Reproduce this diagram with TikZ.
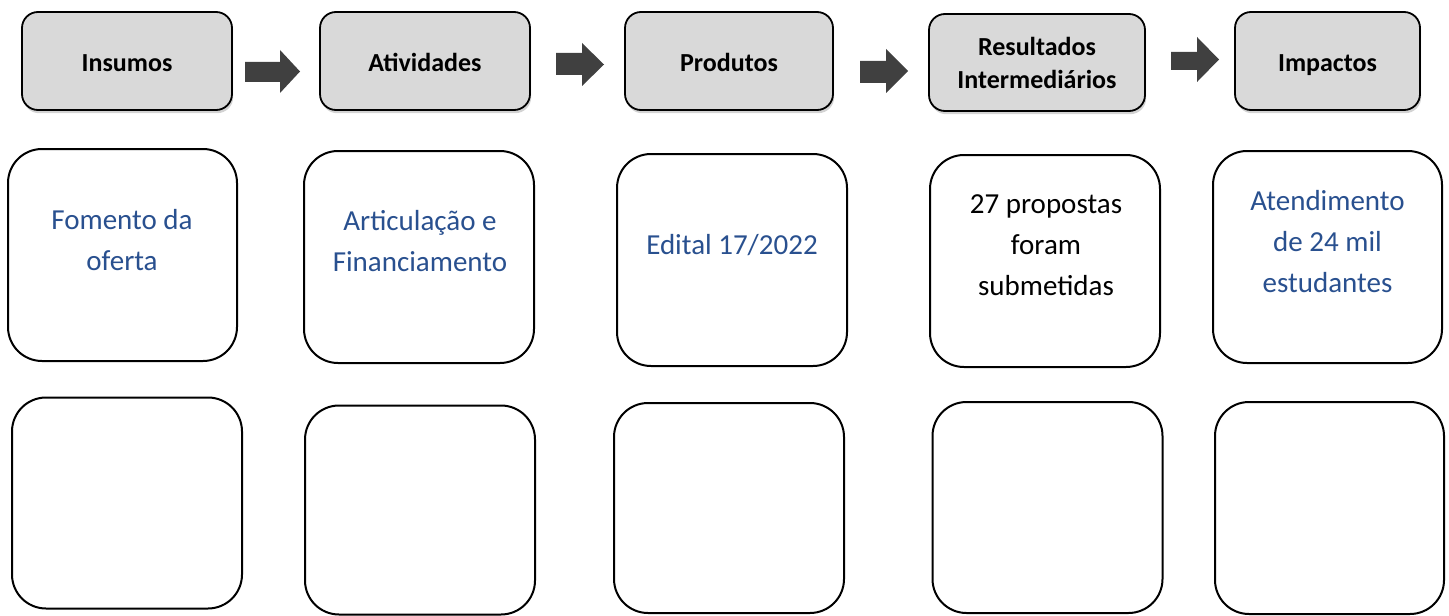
\documentclass[tikz,border=0pt]{standalone}
\usepackage{fontspec}
\setmainfont{Carlito}
\usetikzlibrary{shadows}
\definecolor{hdrfill}{HTML}{D9D9D9}
\definecolor{txtblue}{HTML}{29508F}
\definecolor{arrowgray}{HTML}{404040}
\tikzset{
  hdr/.style={draw=black, line width=0.9pt, fill=hdrfill, rounded corners=8pt,
    minimum height=49pt, inner sep=0pt, align=center,
    font=\bfseries\fontsize{13}{16.5}\selectfont,
    drop shadow={opacity=0.35, shadow xshift=0.6pt, shadow yshift=-1.6pt}},
  hdrone/.style={hdr, text height=11pt, text depth=0pt},
  cell/.style={draw=black, line width=1pt, fill=white, rounded corners=17pt,
    inner sep=0pt},
  txt/.style={anchor=north, inner sep=0pt, align=center,
    font=\fontsize{14.5}{20.5}\selectfont},
  bluetxt/.style={txt, text=txtblue},
  blockarrow/.style={fill=arrowgray}
}
\begin{document}
\begin{tikzpicture}[x=0.5pt, y=-0.5pt]
\useasboundingbox (0,0) rectangle (1449,615);

% header boxes
\node[hdrone, minimum width=105pt] (h1) at (127,61) {Insumos};
\node[hdrone, minimum width=105pt] (h2) at (425,61) {Atividades};
\node[hdrone, minimum width=104pt] (h3) at (729,61) {Produtos};
\node[hdr, minimum width=108pt, minimum height=48.5pt] (h4) at (1037,62.5) {Resultados\\Intermediários};
\node[hdrone, minimum width=92.5pt] (h5) at (1327.5,61) {Impactos};

% block arrows between headers
\fill[blockarrow] (245,62) -- (280,62) -- (280,50) -- (300,71.5) -- (280,93) -- (280,82) -- (245,82) -- cycle;
\fill[blockarrow] (556,53) -- (582,53) -- (582,43) -- (604,64.5) -- (582,86) -- (582,75) -- (556,75) -- cycle;
\fill[blockarrow] (860,61) -- (886,61) -- (886,49) -- (908,71) -- (886,93) -- (886,83) -- (860,83) -- cycle;
\fill[blockarrow] (1171,52) -- (1197,52) -- (1197,37) -- (1219,59.5) -- (1197,82) -- (1197,70) -- (1171,70) -- cycle;

% second row
\node[cell, minimum width=114.5pt, minimum height=106pt] (b1) at (122.5,255) {};
\node[cell, minimum width=115pt, minimum height=106pt] (b2) at (419,257) {};
\node[cell, minimum width=115pt, minimum height=106pt] (b3) at (732,260) {};
\node[cell, minimum width=115pt, minimum height=106pt] (b4) at (1045,261) {};
\node[cell, minimum width=114.5pt, minimum height=106pt] (b5) at (1327.5,257) {};

\node[bluetxt] (t1) at (122,200.5) {\strut Fomento da\\oferta};
\node[bluetxt] (t2) at (420,201.5) {\strut Articulação e\\Financiamento};
\node[bluetxt] (t3) at (732,225.5) {\strut Edital 17/2022};
\node[txt] (t4) at (1046,184.5) {\strut 27 propostas\\foram\\submetidas};
\node[bluetxt] (t5) at (1327.5,181.5) {\strut Atendimento\\de 24 mil\\estudantes};

% third row
\node[cell, minimum width=115pt, minimum height=105.5pt] (c1) at (127,503) {};
\node[cell, minimum width=115pt, minimum height=104.5pt] (c2) at (420,510) {};
\node[cell, minimum width=115pt, minimum height=105pt] (c3) at (729,508) {};
\node[cell, minimum width=115pt, minimum height=105.5pt] (c4) at (1047.5,507.5) {};
\node[cell, minimum width=114.5pt, minimum height=106pt] (c5) at (1329.5,508) {};
\end{tikzpicture}
\end{document}
